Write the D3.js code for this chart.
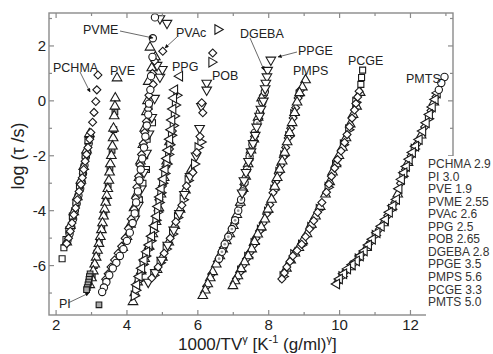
<!DOCTYPE html>
<html><head><meta charset="utf-8">
<script src="https://cdn.jsdelivr.net/npm/d3@7"></script>
<style>html,body{margin:0;padding:0;background:#fff;}svg{display:block;font-family:"Liberation Sans",Arial,sans-serif;}</style>
</head><body><svg id="c" width="493" height="354"></svg>
<script>
// ---------- data ----------
const xTickVals = [2,4,6,8,10,12];
const xTickLabels = ["2","4","6","8","10","12"];
const yTickVals = [-6,-4,-2,0,2];
const yTickLabels = ["-6","-4","-2","0","2"];
const legendNames = ["PCHMA","PI","PVE","PVME","PVAc","PPG","POB","DGEBA","PPGE","PMPS","PCGE","PMTS"];
const legendGammas = ["2.9","3.0","1.9","2.55","2.6","2.5","2.65","2.8","3.5","5.6","3.3","5.0"];

const pchmaDia = [[3.18,0.94],[3.15,0.40],[3.12,-0.02],[3.07,-0.42],[3.03,-0.78],[2.98,-1.15],[2.95,-1.4],[2.9,-1.7],[2.86,-1.95],[2.82,-2.2],[2.78,-2.5],[2.74,-2.8],[2.7,-3.05],[2.65,-3.3],[2.6,-3.6],[2.55,-3.9],[2.5,-4.15],[2.45,-4.45],[2.4,-4.75],[2.35,-5.0],[2.3,-5.2]];
const pchmaCirc = [[2.96,-1.3],[2.92,-1.55],[2.88,-1.85],[2.84,-2.05],[2.80,-2.35],[2.76,-2.65],[2.72,-2.95],[2.68,-3.2],[2.63,-3.45],[2.58,-3.75],[2.53,-4.0],[2.48,-4.3],[2.43,-4.6],[2.38,-4.85],[2.32,-5.1]];
const pchmaSq = [[2.9,-1.45],[2.82,-2.0],[2.75,-2.6],[2.66,-3.1],[2.56,-3.7],[2.46,-4.2],[2.36,-4.7],[2.28,-5.05],[2.22,-5.35],[2.17,-5.75]];
const pchmaTri = [[2.94,-1.2],[2.86,-1.8],[2.78,-2.4],[2.7,-2.9],[2.6,-3.5],[2.5,-4.05],[2.4,-4.55],[2.3,-5.15]];

const pveTri = [[3.72,0.83],[3.67,0.1],[3.66,-0.2],[3.64,-0.55],[3.62,-1.0],[3.61,-1.35],[3.59,-1.65],[3.56,-2.0],[3.53,-2.3],[3.51,-2.6],[3.49,-2.9],[3.46,-3.2],[3.43,-3.45],[3.40,-3.7],[3.37,-3.95],[3.34,-4.2],[3.31,-4.45],[3.28,-4.7],[3.25,-4.95],[3.21,-5.2],[3.17,-5.45],[3.13,-5.7],[3.09,-5.95],[3.05,-6.2],[3.0,-6.45],[2.95,-6.7]];
const pveSq = [[3.66,-0.4],[3.63,-1.05],[3.58,-1.8],[3.52,-2.45],[3.47,-3.05],[3.41,-3.6],[3.35,-4.1],[3.29,-4.6],[3.22,-5.1],[3.15,-5.55],[3.08,-6.0],[3.02,-6.35]];
const piSq = [[2.96,-6.3],[2.94,-6.4],[2.93,-6.5],[2.92,-6.6],[2.9,-6.7],[2.88,-6.8],[2.86,-6.88],[3.21,-7.43]];

const pvmeCirc = [[4.79,3.04],[4.73,2.28],[4.72,1.6],[4.68,0.9],[4.66,0.4],[4.62,-0.1],[4.6,-0.5],[4.56,-0.9],[4.52,-1.3],[4.48,-1.7],[4.43,-2.1],[4.39,-2.5],[4.35,-2.9],[4.31,-3.3],[4.26,-3.7],[4.22,-4.1],[4.16,-4.45],[4.08,-4.8],[4.0,-5.1],[3.9,-5.4],[3.8,-5.65],[3.7,-5.9],[3.6,-6.1],[3.5,-6.35],[3.42,-6.6],[3.35,-6.8],[3.3,-6.96]];
const pvacDia = [[5.01,1.81],[4.78,1.45],[4.72,1.0],[4.74,0.6],[4.62,0.2],[4.6,-0.3],[4.55,-0.75],[4.5,-1.15],[4.46,-1.55],[4.41,-1.95],[4.37,-2.35],[4.33,-2.75],[4.28,-3.15],[4.24,-3.55],[4.2,-3.95],[4.12,-4.3],[4.04,-4.65],[3.95,-5.0],[3.85,-5.3],[3.75,-5.55],[3.65,-5.8],[3.55,-6.05],[3.47,-6.3],[3.4,-6.5]];
const pvmeTriD = [[4.93,3.0],[5.13,2.83],[4.93,0.87],[5.0,1.15],[4.85,1.3],[4.78,0.1],[4.7,-0.6],[4.62,-1.2],[4.55,-1.9],[4.48,-2.6],[4.4,-3.2],[4.32,-3.8],[4.22,-4.3]];
const pvacTri = [[4.65,1.95],[4.8,1.6],[4.7,1.2],[4.6,0.7],[4.58,0.0],[4.55,-0.4],[4.5,-1.0],[4.45,-1.6],[4.38,-2.2],[4.34,-2.8],[4.28,-3.4],[4.2,-3.9],[4.1,-4.5],[4.0,-4.95],[3.88,-5.35]];
const pvacSq = [[4.62,-0.2],[4.72,-0.8],[4.57,-1.4],[4.5,-2.0],[4.55,-2.5],[4.45,-3.0],[4.35,-3.6],[4.25,-4.05]];

const ppgTriL = [[5.49,0.9],[5.35,0.4],[5.32,0.1],[5.3,-0.3],[5.27,-0.7],[5.25,-1.05],[5.21,-1.4],[5.16,-1.8],[5.13,-2.1],[5.08,-2.5],[5.03,-2.85],[4.97,-3.2],[4.93,-3.5],[4.88,-3.85],[4.84,-4.2],[4.78,-4.55],[4.7,-4.93],[4.63,-5.25],[4.56,-5.5],[4.49,-5.8],[4.42,-6.1],[4.35,-6.4],[4.28,-6.7]];
const ppgTriR = [[5.4,0.2],[5.36,-0.15],[5.33,-0.55],[5.3,-0.9],[5.25,-1.25],[5.2,-1.6],[5.17,-1.95],[5.12,-2.3],[5.06,-2.65],[5.0,-3.0],[4.95,-3.35],[4.9,-3.7],[4.86,-4.05],[4.81,-4.35],[4.74,-4.75],[4.67,-5.1],[4.6,-5.4],[4.52,-5.65],[4.45,-5.95],[4.38,-6.25],[4.31,-6.55],[4.24,-6.9],[4.2,-7.1]];
const ppgTriU = [[4.17,-7.32],[4.22,-7.0],[4.3,-6.6],[4.4,-6.2],[4.5,-5.75],[4.62,-5.3],[4.73,-4.85],[4.82,-4.4],[4.9,-3.9],[4.96,-3.4],[5.05,-2.8],[5.12,-2.2],[5.2,-1.5]];
const ppgDia = [[5.28,-1.1],[5.2,-1.75],[5.1,-2.4],[5.0,-3.1],[4.9,-3.6]];

const pobDia = [[6.42,1.74],[6.11,-0.07],[6.14,-0.43],[6.06,-1.3],[5.97,-1.88],[5.86,-2.61],[5.68,-3.1],[5.55,-3.8],[5.38,-4.4],[5.22,-5.0],[5.05,-5.55],[4.88,-6.05],[4.7,-6.45]];
const pobTriD = [[6.25,0.65],[6.25,0.40],[6.1,-0.2],[6.05,-1.0],[5.95,-2.0],[5.78,-2.75],[5.62,-3.4],[5.48,-4.1],[5.32,-4.7],[5.15,-5.25],[4.98,-5.8],[4.8,-6.25],[4.6,-6.6]];
const pobTriR = [[6.56,2.6],[6.39,1.41],[6.08,-1.5],[6.0,-1.7],[5.9,-2.3],[5.72,-2.9],[5.58,-3.6],[5.42,-4.25],[5.28,-4.85],[5.1,-5.4],[4.93,-5.9],[4.75,-6.35]];
const pobTriU = [[5.82,-2.5],[5.65,-3.25],[5.5,-3.95],[5.35,-4.55],[5.18,-5.15],[5.0,-5.7],[4.85,-6.15]];

const dgebaTri = [[7.8,0.1],[7.7,-0.6],[7.58,-1.4],[7.5,-1.8],[7.42,-2.3],[7.35,-2.75],[7.28,-3.2],[7.2,-3.7],[7.1,-4.15],[7.0,-4.55],[6.9,-4.85],[6.8,-5.1],[6.7,-5.4],[6.62,-5.65],[6.52,-5.95],[6.42,-6.23],[6.35,-6.45],[6.28,-6.67],[6.21,-6.9],[6.14,-7.1]];
const dgebaDia = [[7.85,0.2],[7.72,-0.65],[7.6,-1.3],[7.45,-2.15],[7.3,-3.05],[7.18,-3.8],[7.04,-4.45],[6.88,-4.9],[6.72,-5.35],[6.55,-5.85],[6.4,-6.3],[6.25,-6.75]];
const dgebaCirc = [[7.89,0.33],[7.82,-0.05],[7.75,-0.43],[7.68,-0.8],[7.61,-1.16],[7.54,-1.6],[7.46,-2.03],[7.39,-2.5],[7.32,-2.97],[7.27,-3.3],[7.22,-3.6],[7.14,-4.0],[7.05,-4.35],[6.96,-4.67],[6.86,-4.95],[6.76,-5.22],[6.68,-5.5],[6.6,-5.75]];
const ppgeTriD = [[8.06,1.49],[7.97,1.12],[7.95,0.88],[7.92,0.65],[7.9,0.45],[7.85,0.0],[7.78,-0.3],[7.74,-0.55],[7.66,-0.95],[7.62,-1.25],[7.56,-1.55],[7.5,-1.85],[7.43,-2.2],[7.36,-2.6],[7.3,-2.9],[7.25,-3.35]];

const pmpsTri = [[9.04,0.76],[8.95,0.5],[8.87,0.29],[8.8,-0.05],[8.73,-0.43],[8.66,-0.8],[8.59,-1.16],[8.52,-1.5],[8.45,-1.88],[8.38,-2.2],[8.31,-2.5],[8.24,-2.8],[8.17,-3.12],[8.08,-3.59],[7.98,-3.95],[7.89,-4.31],[7.79,-4.6],[7.69,-4.86],[7.6,-5.13],[7.52,-5.4],[7.42,-5.65],[7.32,-5.87],[7.22,-6.12],[7.13,-6.38],[7.05,-6.56],[6.99,-6.74]];
const pmpsDia = [[8.9,0.4],[8.83,0.1],[8.76,-0.25],[8.69,-0.62],[8.62,-1.0],[8.55,-1.35],[8.48,-1.7],[8.41,-2.05],[8.34,-2.35],[8.27,-2.65],[8.2,-2.95],[8.12,-3.35],[8.03,-3.78],[7.94,-4.12],[7.84,-4.45],[7.74,-4.74],[7.64,-5.0],[7.56,-5.27],[7.47,-5.52],[7.37,-5.76],[7.27,-6.0],[7.18,-6.25],[7.09,-6.47]];
const pmpsTriR = [[8.85,0.2],[8.7,-0.5],[8.56,-1.3],[8.42,-2.0],[8.28,-2.6],[8.14,-3.25],[7.96,-4.05],[7.76,-4.7],[7.58,-5.2],[7.4,-5.7],[7.2,-6.2]];

const pcgeSq = [[10.65,1.12],[10.62,0.85],[10.6,0.6]];
const pcgeDia = [[10.55,0.35],[10.51,0.14],[10.46,-0.1],[10.42,-0.33],[10.35,-0.63],[10.28,-0.94],[10.21,-1.23],[10.14,-1.52],[10.04,-1.83],[9.94,-2.14],[9.86,-2.45],[9.77,-2.75],[9.7,-3.04],[9.63,-3.33],[9.5,-3.7],[9.38,-4.06],[9.27,-4.37],[9.15,-4.67],[9.04,-4.95],[8.93,-5.22],[8.8,-5.45],[8.68,-5.65],[8.6,-5.85],[8.51,-6.05],[8.44,-6.27],[8.37,-6.49]];
const pcgeTri = [[10.58,0.3],[10.48,-0.2],[10.38,-0.5],[10.3,-0.85],[10.18,-1.35],[10.08,-1.7],[9.98,-2.0],[9.9,-2.3],[9.8,-2.6],[9.72,-2.95],[9.6,-3.4],[9.45,-3.85],[9.32,-4.2],[9.2,-4.5],[9.08,-4.85],[8.96,-5.1],[8.85,-5.35],[8.74,-5.55],[8.62,-5.8],[8.5,-6.1]];
const pcgeTriR = [[10.45,-0.05],[10.25,-1.05],[10.1,-1.6],[9.88,-2.35],[9.67,-3.15],[9.42,-3.95],[9.18,-4.6],[8.92,-5.25],[8.7,-5.6],[8.4,-6.4]];

const pmtsCirc = [[12.96,0.87],[12.87,0.65],[12.8,0.4]];
const pmtsTriL = [[12.76,0.29],[12.7,0.05],[12.62,-0.22],[12.54,-0.5],[12.45,-0.8],[12.35,-1.1],[12.25,-1.41],[12.15,-1.65],[12.06,-1.88],[11.97,-2.13],[11.89,-2.39],[11.82,-2.62],[11.75,-2.86],[11.68,-3.2],[11.61,-3.59],[11.51,-3.82],[11.41,-4.06],[11.3,-4.32],[11.18,-4.57],[11.06,-4.8],[10.93,-5.04],[10.82,-5.25],[10.7,-5.47],[10.59,-5.65],[10.48,-5.83],[10.36,-5.97],[10.23,-6.12],[10.12,-6.3],[10.0,-6.49],[9.92,-6.67]];
const pmtsDia = [[12.72,0.15],[12.58,-0.35],[12.4,-0.95],[12.2,-1.55],[12.02,-2.0],[11.86,-2.5],[11.72,-3.0],[11.56,-3.7],[11.36,-4.18],[11.12,-4.68],[10.88,-5.14],[10.64,-5.56],[10.42,-5.9],[10.18,-6.2],[9.96,-6.58]];
const pmtsTri = [[12.66,-0.05],[12.3,-1.25],[11.93,-2.25],[11.64,-3.4],[11.24,-4.45],[10.76,-5.35],[10.3,-6.05]];
const pmtsTriR = [[12.5,-0.65],[12.1,-1.75],[11.78,-2.75],[11.46,-3.95],[11.0,-4.9],[10.52,-5.75],[10.06,-6.4]];

// ---------- layout ----------
const svg = d3.select("#c");
const L=49, R=453, T=13, B=315;
const x = d3.scaleLinear().domain([1.8,13.2]).range([L,R]);
const y = d3.scaleLinear().domain([-7.8,3.2]).range([B,T]);
const axisCol = "#8a8a8a", ink = "#222";

const seriesList = [
  [pchmaCirc,"circ"],[pchmaSq,"sq"],[pchmaTri,"triU"],[pchmaDia,"dia"],
  [pveSq,"sqg"],[pveTri,"triU"],[piSq,"sqg"],
  [pvacSq,"sq"],[pvacTri,"triU"],[pvmeTriD,"triD"],[pvacDia,"dia"],[pvmeCirc,"circ"],
  [ppgDia,"dia"],[ppgTriU,"triU"],[ppgTriR,"triR"],[ppgTriL,"triL"],
  [pobTriU,"triU"],[pobTriR,"triR"],[pobTriD,"triD"],[pobDia,"dia"],
  [dgebaDia,"dia"],[dgebaTri,"triU"],[dgebaCirc,"circd"],[ppgeTriD,"triD"],
  [pmpsTriR,"triR"],[pmpsDia,"dia"],[pmpsTri,"triU"],
  [pcgeTriR,"triR"],[pcgeTri,"triU"],[pcgeDia,"dia"],[pcgeSq,"sq"],
  [pmtsTriR,"triR"],[pmtsTri,"triU"],[pmtsDia,"dia"],[pmtsTriL,"triL"],[pmtsCirc,"circ"]
];
const symDefs = {
  circ:{t:d3.symbolCircle,s:42,r:0},
  circd:{t:d3.symbolCircle,s:42,r:0},
  sq:{t:d3.symbolSquare,s:36,r:0},
  sqg:{t:d3.symbolSquare,s:32,r:0},
  dia:{t:d3.symbolSquare,s:32,r:45},
  triU:{t:d3.symbolTriangle,s:40,r:0},
  triD:{t:d3.symbolTriangle,s:40,r:180},
  triL:{t:d3.symbolTriangle,s:40,r:-90},
  triR:{t:d3.symbolTriangle,s:40,r:90}
};
const marks = svg.append("g");
seriesList.forEach(([data,key])=>{
  const sd = symDefs[key];
  const path = d3.symbol().type(sd.t).size(sd.s)();
  const g = marks.append("g");
  g.selectAll("path").data(data).join("path")
    .attr("d",path)
    .attr("transform",d=>`translate(${x(d[0])},${y(d[1])}) rotate(${sd.r})`)
    .attr("fill", key==="sqg" ? "#a8a8a8" : "#fff")
    .attr("stroke","#1a1a1a").attr("stroke-width",1.1);
  if(key==="circd"){
    g.selectAll("circle").data(data).join("circle")
      .attr("cx",d=>x(d[0])).attr("cy",d=>y(d[1])).attr("r",1.4).attr("fill","#999");
  }
});

// ---------- frame & ticks ----------
const fr = svg.append("g").attr("stroke",axisCol).attr("fill","none");
fr.append("rect").attr("x",L).attr("y",T).attr("width",R-L).attr("height",B-T).attr("stroke-width",1.4);
const xMinor = d3.range(2,14,1), yMinor = d3.range(-7,4,1);
xMinor.forEach(v=>{
  const len = (v%2===0)?5:3;
  fr.append("line").attr("x1",x(v)).attr("x2",x(v)).attr("y1",B).attr("y2",B-len).attr("stroke-width",1.2);
  fr.append("line").attr("x1",x(v)).attr("x2",x(v)).attr("y1",T).attr("y2",T+len).attr("stroke-width",1.2);
});
yMinor.forEach(v=>{
  const len = (v%2===0)?5:3;
  fr.append("line").attr("y1",y(v)).attr("y2",y(v)).attr("x1",L).attr("x2",L+len).attr("stroke-width",1.2);
  fr.append("line").attr("y1",y(v)).attr("y2",y(v)).attr("x1",R).attr("x2",R-len).attr("stroke-width",1.2);
});

// legend box covers frame corner
svg.append("rect").attr("x",426).attr("y",156).attr("width",70).attr("height",200).attr("fill","#fff");

const tl = svg.append("g").attr("fill",ink).attr("font-size",15);
xTickVals.forEach((v,i)=>tl.append("text").attr("x",x(v)).attr("y",B+15).attr("text-anchor","middle").text(xTickLabels[i]));
yTickVals.forEach((v,i)=>tl.append("text").attr("x",L-3).attr("y",y(v)+5).attr("text-anchor","end").text(yTickLabels[i]));

// axis titles
const xt = svg.append("text").attr("x",178).attr("y",350).attr("font-size",17).attr("fill",ink);
xt.append("tspan").text("1000/TV");
xt.append("tspan").attr("font-size",11).attr("dy",-7).text("γ");
xt.append("tspan").attr("dy",7).text("  [K");
xt.append("tspan").attr("font-size",11).attr("dy",-7).text("-1");
xt.append("tspan").attr("dy",7).text(" (g/ml)");
xt.append("tspan").attr("font-size",11).attr("dy",-7).text("γ");
xt.append("tspan").attr("dy",7).text("]");
svg.append("text").attr("transform","translate(24,156) rotate(-90)").attr("text-anchor","middle")
  .attr("font-size",18).attr("fill",ink).text("log (τ /s)");

// legend
const lg = svg.append("g").attr("font-size",12).attr("fill","#333");
legendNames.forEach((n,i)=>lg.append("text").attr("x",428).attr("y",168+i*12.55).text(n+" "+legendGammas[i]));

// annotations
const ann = svg.append("g").attr("font-size",12.5).attr("fill",ink);
const annPos = {PCHMA:[53,67],PVE:[110,70],PVME:[83,29],PVAc:[176,32],PPG:[172,66],POB:[212,75],DGEBA:[240,33],PPGE:[298,50],PMPS:[293,70],PCGE:[348,60],PMTS:[406,78],PI:[59,303]};
Object.entries(annPos).forEach(([n,p])=>ann.append("text").attr("x",p[0]).attr("y",p[1]+4.5).text(n));
const arrows = [[80,72,90,92],[120,31,153,38],[177,37,165,48],[250,38,264,70],[297,52,278,57],[68,303,89,293]];
svg.append("defs").append("marker").attr("id","ah").attr("viewBox","0 0 10 10").attr("refX",9).attr("refY",5)
  .attr("markerWidth",6).attr("markerHeight",5).attr("orient","auto")
  .append("path").attr("d","M0,0L10,5L0,10Z").attr("fill","#111");
arrows.forEach(a=>svg.append("line").attr("x1",a[0]).attr("y1",a[1]).attr("x2",a[2]).attr("y2",a[3])
  .attr("stroke","#444").attr("stroke-width",0.8).attr("marker-end","url(#ah)"));
</script></body></html>
